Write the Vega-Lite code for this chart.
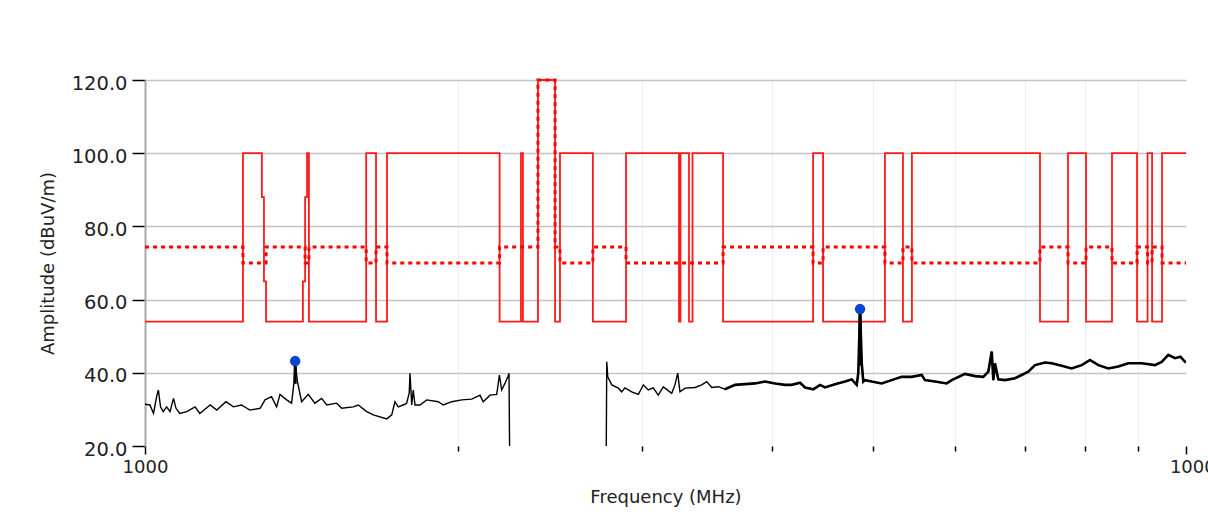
{
  "$schema": "https://vega.github.io/schema/vega-lite/v6.json",
  "width": 1041,
  "height": 366,
  "autosize": {"type": "none"},
  "padding": {"left": 145, "top": 80, "right": 22, "bottom": 79},
  "background": "white",
  "config": {
    "view": {"stroke": null},
    "font": "DejaVu Sans",
    "axis": {"labelFont": "DejaVu Sans", "titleFont": "DejaVu Sans", "labelColor": "#222222", "titleColor": "#222222", "titleFontWeight": "normal"}
  },
  "datasets": {
    "limit": [
      {"f": 1000, "lim": 54, "avg": 74.4},
      {"f": 1242, "lim": 100, "avg": 70},
      {"f": 1295, "lim": 88, "avg": 70},
      {"f": 1301, "lim": 65, "avg": 70},
      {"f": 1307, "lim": 54, "avg": 74.4},
      {"f": 1418, "lim": 65, "avg": 74.4},
      {"f": 1425, "lim": 88, "avg": 70},
      {"f": 1431, "lim": 100, "avg": 70},
      {"f": 1437, "lim": 54, "avg": 74.4},
      {"f": 1631, "lim": 100, "avg": 70},
      {"f": 1667, "lim": 54, "avg": 74.4},
      {"f": 1708, "lim": 100, "avg": 70},
      {"f": 2191, "lim": 54, "avg": 74.4},
      {"f": 2297, "lim": 100, "avg": 74.4},
      {"f": 2307, "lim": 54, "avg": 74.4},
      {"f": 2385, "lim": 120, "avg": 120},
      {"f": 2477, "lim": 54, "avg": 74.4},
      {"f": 2504, "lim": 100, "avg": 70},
      {"f": 2693, "lim": 54, "avg": 74.4},
      {"f": 2898, "lim": 100, "avg": 70},
      {"f": 3258, "lim": 54, "avg": 70},
      {"f": 3269, "lim": 100, "avg": 70},
      {"f": 3331, "lim": 54, "avg": 70},
      {"f": 3357, "lim": 100, "avg": 70},
      {"f": 3592, "lim": 54, "avg": 74.4},
      {"f": 4383, "lim": 100, "avg": 70},
      {"f": 4481, "lim": 54, "avg": 74.4},
      {"f": 5138, "lim": 100, "avg": 70},
      {"f": 5347, "lim": 54, "avg": 74.4},
      {"f": 5454, "lim": 100, "avg": 70},
      {"f": 7240, "lim": 54, "avg": 74.4},
      {"f": 7703, "lim": 100, "avg": 70},
      {"f": 8016, "lim": 54, "avg": 74.4},
      {"f": 8490, "lim": 100, "avg": 70},
      {"f": 8974, "lim": 54, "avg": 74.4},
      {"f": 9185, "lim": 100, "avg": 70},
      {"f": 9277, "lim": 54, "avg": 74.4},
      {"f": 9484, "lim": 100, "avg": 70},
      {"f": 10000, "lim": 100, "avg": 70}
    ],
    "trace": [
      {"f": 1000, "v": 31.4}, {"f": 1011, "v": 31.2}, {"f": 1019, "v": 28.9}, {"f": 1026, "v": 33.5},
      {"f": 1030, "v": 35.3}, {"f": 1035, "v": 30.7}, {"f": 1041, "v": 29.4}, {"f": 1049, "v": 30.7},
      {"f": 1057, "v": 29.4}, {"f": 1065, "v": 33.0}, {"f": 1071, "v": 30.3}, {"f": 1080, "v": 28.9},
      {"f": 1097, "v": 29.4}, {"f": 1117, "v": 30.7}, {"f": 1129, "v": 28.9}, {"f": 1155, "v": 31.2},
      {"f": 1172, "v": 29.8}, {"f": 1196, "v": 32.1}, {"f": 1216, "v": 30.7}, {"f": 1238, "v": 31.2},
      {"f": 1261, "v": 29.8}, {"f": 1290, "v": 30.3}, {"f": 1304, "v": 32.6}, {"f": 1323, "v": 33.5},
      {"f": 1338, "v": 30.7}, {"f": 1348, "v": 34.1}, {"f": 1368, "v": 32.6}, {"f": 1383, "v": 31.7},
      {"f": 1390, "v": 37.1}, {"f": 1394, "v": 43.0}, {"f": 1401, "v": 37.6}, {"f": 1414, "v": 32.1},
      {"f": 1435, "v": 34.1}, {"f": 1456, "v": 31.7}, {"f": 1478, "v": 33.0}, {"f": 1495, "v": 31.2},
      {"f": 1528, "v": 31.7}, {"f": 1545, "v": 30.3}, {"f": 1585, "v": 30.7}, {"f": 1603, "v": 31.2},
      {"f": 1633, "v": 29.4}, {"f": 1657, "v": 28.5}, {"f": 1707, "v": 27.4}, {"f": 1726, "v": 28.5},
      {"f": 1738, "v": 32.1}, {"f": 1751, "v": 30.7}, {"f": 1777, "v": 31.4}, {"f": 1784, "v": 31.7},
      {"f": 1794, "v": 34.5}, {"f": 1797, "v": 39.9}, {"f": 1804, "v": 31.2}, {"f": 1810, "v": 35.3},
      {"f": 1817, "v": 31.2}, {"f": 1837, "v": 31.2}, {"f": 1865, "v": 32.6}, {"f": 1913, "v": 32.1},
      {"f": 1934, "v": 31.2}, {"f": 1971, "v": 32.1}, {"f": 2015, "v": 32.6}, {"f": 2060, "v": 32.8},
      {"f": 2098, "v": 33.9}, {"f": 2113, "v": 32.1}, {"f": 2145, "v": 33.9}, {"f": 2177, "v": 34.1},
      {"f": 2190, "v": 39.4}, {"f": 2201, "v": 35.3}, {"f": 2217, "v": 37.1}, {"f": 2231, "v": 38.9},
      {"f": 2237, "v": 39.9}, {"f": 2242, "v": 5}, {"f": 2772, "v": 5}, {"f": 2777, "v": 43.0},
      {"f": 2783, "v": 38.9}, {"f": 2808, "v": 36.7}, {"f": 2849, "v": 35.8}, {"f": 2870, "v": 34.8},
      {"f": 2891, "v": 35.9}, {"f": 2935, "v": 34.8}, {"f": 2978, "v": 34.1}, {"f": 3011, "v": 36.7},
      {"f": 3044, "v": 35.3}, {"f": 3078, "v": 35.9}, {"f": 3112, "v": 33.9}, {"f": 3147, "v": 36.2},
      {"f": 3159, "v": 35.8}, {"f": 3206, "v": 34.4}, {"f": 3229, "v": 36.7}, {"f": 3249, "v": 39.9},
      {"f": 3265, "v": 34.8}, {"f": 3302, "v": 35.8}, {"f": 3376, "v": 36.0}, {"f": 3426, "v": 36.7},
      {"f": 3464, "v": 37.6}, {"f": 3503, "v": 36.0}, {"f": 3554, "v": 36.2}, {"f": 3607, "v": 35.5},
      {"f": 3688, "v": 36.7}, {"f": 3770, "v": 36.9}, {"f": 3855, "v": 37.1}, {"f": 3941, "v": 37.6},
      {"f": 4029, "v": 37.1}, {"f": 4119, "v": 36.7}, {"f": 4181, "v": 36.7}, {"f": 4258, "v": 37.3},
      {"f": 4305, "v": 36.0}, {"f": 4385, "v": 35.5}, {"f": 4451, "v": 36.7}, {"f": 4500, "v": 36.0},
      {"f": 4601, "v": 36.9}, {"f": 4704, "v": 37.6}, {"f": 4774, "v": 38.2}, {"f": 4827, "v": 36.7},
      {"f": 4844, "v": 39.9}, {"f": 4863, "v": 57.4}, {"f": 4881, "v": 42.6}, {"f": 4898, "v": 37.6},
      {"f": 4916, "v": 38.0}, {"f": 4990, "v": 37.6}, {"f": 5101, "v": 37.1}, {"f": 5215, "v": 38.0},
      {"f": 5332, "v": 38.9}, {"f": 5451, "v": 38.9}, {"f": 5573, "v": 39.4}, {"f": 5614, "v": 38.0},
      {"f": 5740, "v": 37.6}, {"f": 5890, "v": 37.1}, {"f": 5956, "v": 38.0}, {"f": 6133, "v": 39.7},
      {"f": 6271, "v": 39.1}, {"f": 6387, "v": 38.9}, {"f": 6458, "v": 40.3}, {"f": 6507, "v": 45.8},
      {"f": 6530, "v": 38.0}, {"f": 6554, "v": 42.6}, {"f": 6602, "v": 38.2}, {"f": 6701, "v": 38.0},
      {"f": 6851, "v": 38.5}, {"f": 6953, "v": 39.4}, {"f": 7055, "v": 40.3}, {"f": 7161, "v": 42.1},
      {"f": 7321, "v": 42.8}, {"f": 7430, "v": 42.6}, {"f": 7596, "v": 41.9}, {"f": 7766, "v": 41.2},
      {"f": 7940, "v": 42.1}, {"f": 8087, "v": 43.5}, {"f": 8237, "v": 42.1}, {"f": 8421, "v": 41.2},
      {"f": 8609, "v": 41.7}, {"f": 8802, "v": 42.6}, {"f": 9067, "v": 42.6}, {"f": 9337, "v": 42.1},
      {"f": 9477, "v": 43.0}, {"f": 9616, "v": 44.9}, {"f": 9760, "v": 44.0}, {"f": 9878, "v": 44.4},
      {"f": 9978, "v": 43.0}, {"f": 10000, "v": 43.2}
    ],
    "peaks": [
      {"f": 1394, "peak": 43.2, "base": 37.0},
      {"f": 4863, "peak": 57.4, "base": 42.0}
    ]
  },
  "layer": [
    {
      "data": {"name": "limit"},
      "mark": {"type": "line", "interpolate": "step-after", "color": "#ff1a1a", "strokeWidth": 1.8},
      "encoding": {
        "x": {
          "field": "f", "type": "quantitative",
          "scale": {"type": "log", "domain": [1000, 10000], "nice": false},
          "title": "Frequency (MHz)",
          "axis": {
            "values": [1000, 2000, 3000, 4000, 5000, 6000, 7000, 8000, 9000, 10000],
            "labelExpr": "datum.value == 1000 || datum.value == 10000 ? format(datum.value, 'd') : ''",
            "labelFontSize": 18,
            "labelPadding": 4,
            "labelFlush": false,
            "labelOverlap": false,
            "labelOffset": {"condition": {"test": "datum.value == 10000", "value": 12}, "value": 0},
            "domain": false,
            "tickColor": "#000000",
            "tickWidth": 1.5,
            "tickSize": {"condition": {"test": "datum.value == 1000 || datum.value == 10000", "value": 8}, "value": 5},
            "grid": true,
            "gridColor": "#eeeeee",
            "gridOpacity": {"condition": {"test": "datum.value == 1000 || datum.value == 10000", "value": 0}, "value": 1},
            "titleFontSize": 18,
            "titlePadding": 12
          }
        },
        "y": {
          "field": "lim", "type": "quantitative",
          "scale": {"domain": [20, 120], "nice": false, "zero": false},
          "title": "Amplitude (dBuV/m)",
          "axis": {
            "values": [20, 25, 30, 35, 40, 45, 50, 55, 60, 65, 70, 75, 80, 85, 90, 95, 100, 105, 110, 115, 120],
            "labelExpr": "datum.value % 20 == 0 ? format(datum.value, '.1f') : ''",
            "labelFontSize": 19.5,
            "labelPadding": 5,
            "labelOffset": 3,
            "domainColor": "#a8a8a8",
            "domainWidth": 2,
            "tickColor": "#000000",
            "tickWidth": 1.5,
            "tickSize": 13,
            "tickOpacity": {"condition": {"test": "datum.value % 20 == 0", "value": 1}, "value": 0},
            "grid": true,
            "gridColor": {"condition": {"test": "datum.value % 20 == 0", "value": "#c4c4c4"}, "value": "#f1f1f1"},
            "gridWidth": {"condition": {"test": "datum.value % 20 == 0", "value": 1.6}, "value": 1},
            "gridOpacity": {"condition": {"test": "datum.value == 20", "value": 0}, "value": 1},
            "titleFontSize": 18,
            "titlePadding": 14
          }
        }
      }
    },
    {
      "data": {"name": "limit"},
      "mark": {"type": "line", "interpolate": "step-after", "color": "#ff0000", "strokeWidth": 3, "strokeDash": [4, 4]},
      "encoding": {
        "x": {"field": "f", "type": "quantitative", "title": "Frequency (MHz)"},
        "y": {"field": "avg", "type": "quantitative", "title": "Amplitude (dBuV/m)"}
      }
    },
    {
      "data": {"name": "trace"},
      "mark": {"type": "line", "color": "#000000", "strokeWidth": 1.4, "clip": true},
      "encoding": {
        "x": {"field": "f", "type": "quantitative", "title": "Frequency (MHz)"},
        "y": {"field": "v", "type": "quantitative", "title": "Amplitude (dBuV/m)"}
      }
    },
    {
      "data": {"name": "trace"},
      "transform": [{"filter": "datum.f >= 3600"}],
      "mark": {"type": "line", "color": "#000000", "strokeWidth": 2.6, "clip": true},
      "encoding": {
        "x": {"field": "f", "type": "quantitative", "title": "Frequency (MHz)"},
        "y": {"field": "v", "type": "quantitative", "title": "Amplitude (dBuV/m)"}
      }
    },
    {
      "data": {"name": "peaks"},
      "mark": {"type": "rule", "color": "#000000", "strokeWidth": 3},
      "encoding": {
        "x": {"field": "f", "type": "quantitative", "title": "Frequency (MHz)"},
        "y": {"field": "peak", "type": "quantitative", "title": "Amplitude (dBuV/m)"},
        "y2": {"field": "base"}
      }
    },
    {
      "data": {"name": "peaks"},
      "mark": {"type": "point", "shape": "circle", "filled": true, "color": "#0a45d0", "size": 110, "opacity": 1},
      "encoding": {
        "x": {"field": "f", "type": "quantitative", "title": "Frequency (MHz)"},
        "y": {"field": "peak", "type": "quantitative", "title": "Amplitude (dBuV/m)"}
      }
    }
  ]
}
